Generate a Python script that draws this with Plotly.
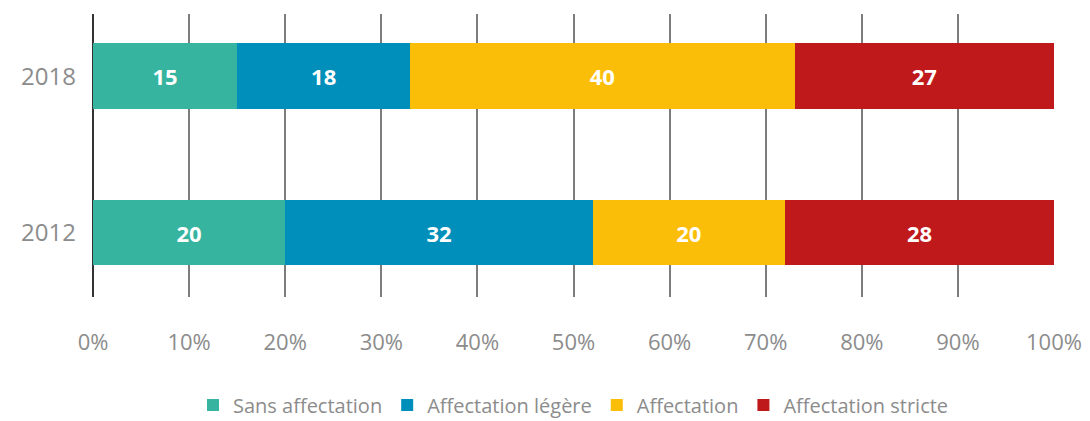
import plotly.graph_objects as go

years = ["2012", "2018"]
series_names = ["Sans affectation", "Affectation légère", "Affectation", "Affectation stricte"]
sans = [20, 15]
legere = [32, 18]
affect = [20, 40]
stricte = [28, 27]
colors = ["#36B4A0", "#008FBB", "#FBBE08", "#C0191B"]
tick_vals = [0, 10, 20, 30, 40, 50, 60, 70, 80, 90, 100]
tick_text = [f"{v}%" for v in tick_vals]

FONT = "Open Sans"
GREY = "#8c8c8c"

fig = go.Figure()
for name, vals, col in zip(series_names, [sans, legere, affect, stricte], colors):
    fig.add_trace(go.Bar(
        y=years, x=vals, name=name, orientation="h",
        marker=dict(color=col, line=dict(width=0)),
        text=[str(v) for v in vals], textposition="inside",
        insidetextanchor="middle",
        textfont=dict(color="white", size=22, family=FONT, weight="bold"),
        width=0.42,
    ))

fig.update_layout(
    barmode="stack",
    width=1090, height=421,
    margin=dict(l=85, r=44, t=6, b=132, autoexpand=False),
    plot_bgcolor="white", paper_bgcolor="white",
    font=dict(family=FONT, color=GREY),
    xaxis=dict(range=[0, 100], tickvals=tick_vals, ticktext=tick_text,
               showgrid=True, gridcolor="#7d7d7d", gridwidth=1.5,
               zeroline=True, zerolinecolor="#333333", zerolinewidth=1.5,
               tickfont=dict(size=22, color=GREY), ticklabelstandoff=30,
               showline=False, automargin=False, fixedrange=True),
    yaxis=dict(range=[-0.412, 1.397], tickfont=dict(size=24, color=GREY),
               showgrid=False, ticklabelstandoff=16, showline=False,
               automargin=False),
    legend=dict(orientation="h", x=0.5, xanchor="center", y=-0.382, yanchor="middle",
                font=dict(size=20, color=GREY), traceorder="normal",
                itemwidth=30),
    showlegend=True,
    uniformtext=dict(minsize=10, mode="show"),
)

fig.write_html("out.html")
